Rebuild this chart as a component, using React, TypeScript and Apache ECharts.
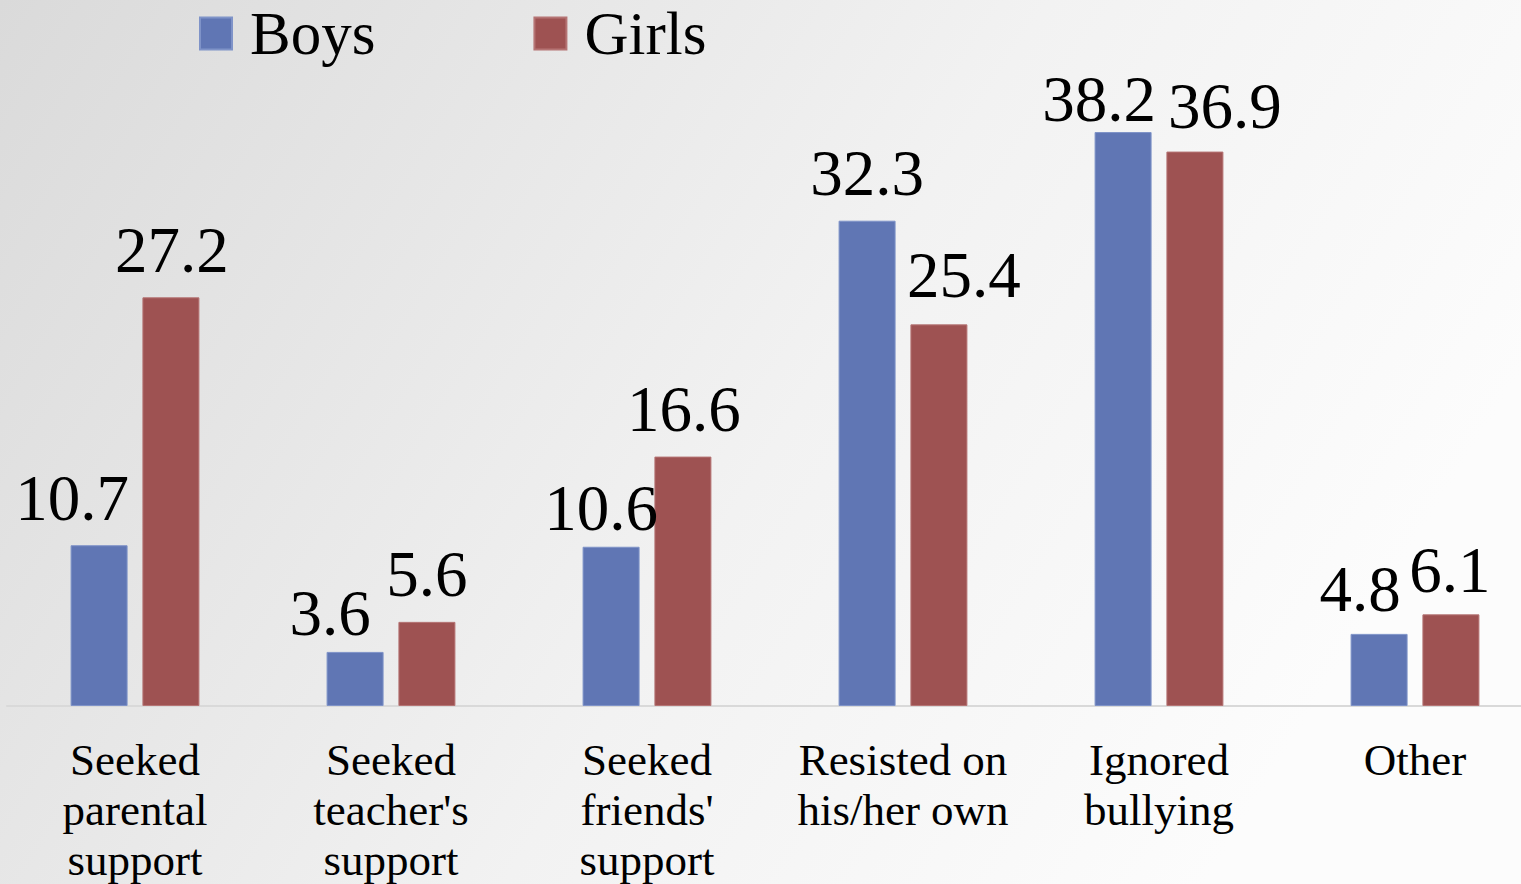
import React, { useEffect, useRef } from "react";
import * as echarts from "echarts";

const categories = [
  "Seeked\nparental\nsupport",
  "Seeked\nteacher's\nsupport",
  "Seeked\nfriends'\nsupport",
  "Resisted on\nhis/her own",
  "Ignored\nbullying",
  "Other",
];
const boys = [10.7, 3.6, 10.6, 32.3, 38.2, 4.8];
const girls = [27.2, 5.6, 16.6, 25.4, 36.9, 6.1];

// label offsets [dx, dy] (manual placement as in the original)
const boysLabelOffsets = [[-27, 0], [-25, 9], [-10, 9], [0, 0], [-24, 14], [-19, 3]];
const girlsLabelOffsets = [[1, 0], [0, 0], [1, 0], [25, -2], [30, 2], [-1, 3]];

const FONT = "'Liberation Serif', 'Times New Roman', serif";

export default function App() {
  const ref = useRef<HTMLDivElement>(null);
  useEffect(() => {
    const chart = echarts.init(ref.current!, null, { renderer: "svg" });
    const mk = (vals: number[], offs: number[][]) =>
      vals.map((v, i) => ({ value: v, label: { offset: offs[i] } }));
    const labelStyle = {
      show: true,
      position: "top" as const,
      distance: 15,
      fontFamily: FONT,
      fontSize: 65,
      color: "#000",
    };
    chart.setOption({
      animation: false,
      backgroundColor: {
        type: "linear",
        x: 0,
        y: 0,
        x2: 1,
        y2: 0.35,
        colorStops: [
          { offset: 0, color: "#dadada" },
          { offset: 0.6, color: "#f2f2f2" },
          { offset: 1, color: "#fcfcfc" },
        ],
      },
      legend: {
        top: -2,
        left: 194,
        itemWidth: 32,
        itemHeight: 32,
        itemGap: 158,
        icon: "rect",
        textStyle: {
          fontFamily: FONT,
          fontSize: 61,
          lineHeight: 54,
          color: "#000",
          padding: [0, 0, 0, 13],
        },
        data: ["Boys", "Girls"],
      },
      grid: {
        left: 7,
        top: 105,
        width: 1536,
        bottom: 178,
        containLabel: false,
        outerBoundsMode: "none",
      },
      xAxis: {
        type: "category",
        data: categories,
        axisLine: { lineStyle: { color: "#d9d9d9", width: 2 } },
        axisTick: { show: false },
        axisLabel: {
          interval: 0,
          margin: 29,
          fontFamily: FONT,
          fontSize: 45,
          lineHeight: 50,
          color: "#000",
          verticalAlign: "top",
        },
      },
      yAxis: {
        type: "value",
        min: 0,
        max: 40,
        show: false,
        splitLine: { show: false },
      },
      series: [
        {
          name: "Boys",
          type: "bar",
          data: mk(boys, boysLabelOffsets),
          barWidth: 57,
          barGap: "26%",
          itemStyle: { color: "#6076b4", borderColor: "#7f93c8", borderWidth: 1 },
          label: labelStyle,
        },
        {
          name: "Girls",
          type: "bar",
          data: mk(girls, girlsLabelOffsets),
          barWidth: 57,
          itemStyle: { color: "#9e5252", borderColor: "#b57474", borderWidth: 1 },
          label: labelStyle,
        },
      ],
    });
    return () => chart.dispose();
  }, []);
  return (
    <div style={{ position: "absolute", left: 0, top: 0, width: 1521, height: 884, overflow: "hidden" }}>
      <div ref={ref} style={{ width: 1560, height: 884 }} />
    </div>
  );
}
